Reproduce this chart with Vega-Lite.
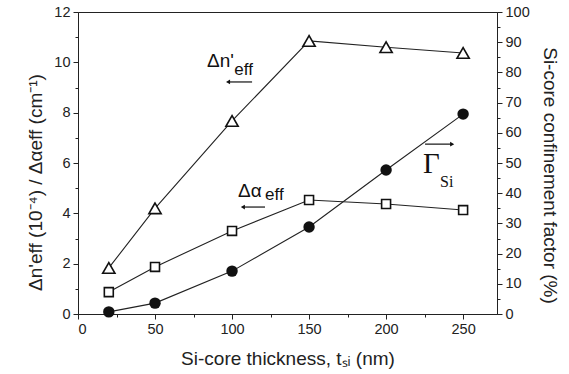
{
  "$schema": "https://vega.github.io/schema/vega-lite/v6.json",
  "width": 419,
  "height": 302,
  "autosize": {"type": "none"},
  "padding": {"left": 78, "top": 12, "right": 72, "bottom": 60},
  "background": "white",
  "config": {
    "view": {"stroke": "#222", "strokeWidth": 1},
    "font": "Liberation Sans",
    "axis": {
      "domainColor": "#222", "tickColor": "#222", "labelColor": "#222", "titleColor": "#222",
      "labelFont": "Liberation Sans", "titleFont": "Liberation Sans",
      "labelFontSize": 14.5, "titleFontSize": 19, "titleFontWeight": "normal",
      "grid": false, "domainWidth": 1, "tickWidth": 1
    }
  },
  "datasets": {
    "main": [
      {"t": 20, "v": 1.83, "s": "dn"}, {"t": 50, "v": 4.2, "s": "dn"}, {"t": 100, "v": 7.67, "s": "dn"},
      {"t": 150, "v": 10.85, "s": "dn"}, {"t": 200, "v": 10.6, "s": "dn"}, {"t": 250, "v": 10.37, "s": "dn"},
      {"t": 20, "v": 0.87, "s": "da"}, {"t": 50, "v": 1.87, "s": "da"}, {"t": 100, "v": 3.3, "s": "da"},
      {"t": 150, "v": 4.53, "s": "da"}, {"t": 200, "v": 4.37, "s": "da"}, {"t": 250, "v": 4.13, "s": "da"}
    ],
    "gamma": [
      {"t": 20, "g": 0.7}, {"t": 50, "g": 3.6}, {"t": 100, "g": 14.2},
      {"t": 150, "g": 28.8}, {"t": 200, "g": 47.7}, {"t": 250, "g": 66.2}
    ],
    "notes": [
      {"t": 83.8, "v": 9.81, "label": "Δn'", "kind": "sans"},
      {"t": 101.5, "v": 9.5, "label": "eff", "kind": "sub"},
      {"t": 103.9, "v": 4.65, "label": "Δα", "kind": "sans"},
      {"t": 121.4, "v": 4.53, "label": "eff", "kind": "sub"},
      {"t": 224, "v": 5.6, "label": "Γ", "kind": "gamma"},
      {"t": 235, "v": 5.05, "label": "Si", "kind": "si"}
    ],
    "arrows": [
      {"t": 97.4, "t2": 113, "v": 9.22, "dir": "left"},
      {"t": 107, "t2": 121.4, "v": 4.25, "dir": "left"},
      {"t": 225.3, "t2": 242.9, "v": 6.75, "dir": "right"}
    ]
  },
  "encoding": {
    "x": {
      "field": "t", "type": "quantitative",
      "scale": {"domain": [0, 272], "nice": false, "zero": false},
      "axis": {
        "title": "Si-core thickness, tₛᵢ (nm)",
        "values": [0, 25, 50, 75, 100, 125, 150, 175, 200, 225, 250],
        "labelExpr": "datum.value % 50 === 0 ? datum.label : ''",
        "tickSize": {"condition": {"test": "datum.value % 50 === 0", "value": 5}, "value": 3},
        "labelPadding": 3, "titlePadding": 14
      }
    }
  },
  "layer": [
    {
      "encoding": {
        "y": {
          "field": "v", "type": "quantitative",
          "scale": {"domain": [0, 12], "nice": false},
          "axis": {
            "title": "Δn'eff (10⁻⁴) / Δαeff (cm⁻¹)",
            "values": [0, 1, 2, 3, 4, 5, 6, 7, 8, 9, 10, 11, 12],
            "labelExpr": "datum.value % 2 === 0 ? datum.label : ''",
            "tickSize": {"condition": {"test": "datum.value % 2 === 0", "value": 5}, "value": 3},
            "labelPadding": 3, "titlePadding": 8, "titleY": 170
          }
        }
      },
      "layer": [
        {
          "data": {"name": "main"},
          "mark": {"type": "line", "color": "#222", "strokeWidth": 1.1},
          "encoding": {"detail": {"field": "s"}}
        },
        {
          "data": {"name": "main"},
          "transform": [{"filter": "datum.s === 'dn'"}],
          "mark": {"type": "point", "shape": "triangle-up", "size": 150, "filled": true, "fill": "white", "stroke": "#111", "strokeWidth": 1.6, "opacity": 1}
        },
        {
          "data": {"name": "main"},
          "transform": [{"filter": "datum.s === 'da'"}],
          "mark": {"type": "point", "shape": "square", "size": 80, "filled": true, "fill": "white", "stroke": "#111", "strokeWidth": 1.6, "opacity": 1}
        },
        {
          "data": {"name": "notes"},
          "transform": [{"filter": "datum.kind === 'sans'"}],
          "mark": {"type": "text", "align": "left", "baseline": "alphabetic", "font": "Liberation Sans", "fontSize": 19, "color": "#111"},
          "encoding": {"text": {"field": "label"}}
        },
        {
          "data": {"name": "notes"},
          "transform": [{"filter": "datum.kind === 'sub'"}],
          "mark": {"type": "text", "align": "left", "baseline": "alphabetic", "font": "Liberation Sans", "fontSize": 17, "color": "#111"},
          "encoding": {"text": {"field": "label"}}
        },
        {
          "data": {"name": "notes"},
          "transform": [{"filter": "datum.kind === 'gamma'"}],
          "mark": {"type": "text", "align": "left", "baseline": "alphabetic", "font": "Liberation Serif", "fontSize": 29, "color": "#111"},
          "encoding": {"text": {"field": "label"}}
        },
        {
          "data": {"name": "notes"},
          "transform": [{"filter": "datum.kind === 'si'"}],
          "mark": {"type": "text", "align": "left", "baseline": "alphabetic", "font": "Liberation Serif", "fontSize": 16, "color": "#111"},
          "encoding": {"text": {"field": "label"}}
        },
        {
          "data": {"name": "arrows"},
          "mark": {"type": "rule", "color": "#111", "strokeWidth": 1.2},
          "encoding": {"x2": {"field": "t2"}}
        },
        {
          "data": {"name": "arrows"},
          "transform": [{"filter": "datum.dir === 'left'"}],
          "mark": {"type": "point", "shape": "triangle-left", "size": 22, "filled": true, "color": "#111", "opacity": 1}
        },
        {
          "data": {"name": "arrows"},
          "transform": [{"filter": "datum.dir === 'right'"}],
          "mark": {"type": "point", "shape": "triangle-right", "size": 22, "filled": true, "color": "#111", "opacity": 1},
          "encoding": {"x": {"field": "t2", "type": "quantitative"}}
        }
      ]
    },
    {
      "data": {"name": "gamma"},
      "encoding": {
        "y": {
          "field": "g", "type": "quantitative",
          "scale": {"domain": [0, 100], "nice": false},
          "axis": {
            "orient": "right",
            "title": "Si-core confinement factor (%)",
            "values": [0, 5, 10, 15, 20, 25, 30, 35, 40, 45, 50, 55, 60, 65, 70, 75, 80, 85, 90, 95, 100],
            "labelExpr": "datum.value % 10 === 0 ? datum.label : ''",
            "tickSize": {"condition": {"test": "datum.value % 10 === 0", "value": 5}, "value": 3},
            "labelPadding": 3, "titlePadding": 10, "titleY": 163
          }
        }
      },
      "layer": [
        {"mark": {"type": "line", "color": "#222", "strokeWidth": 1.1}},
        {"mark": {"type": "point", "shape": "circle", "size": 130, "filled": true, "color": "#111", "opacity": 1}}
      ]
    }
  ],
  "resolve": {"scale": {"y": "independent"}}
}
